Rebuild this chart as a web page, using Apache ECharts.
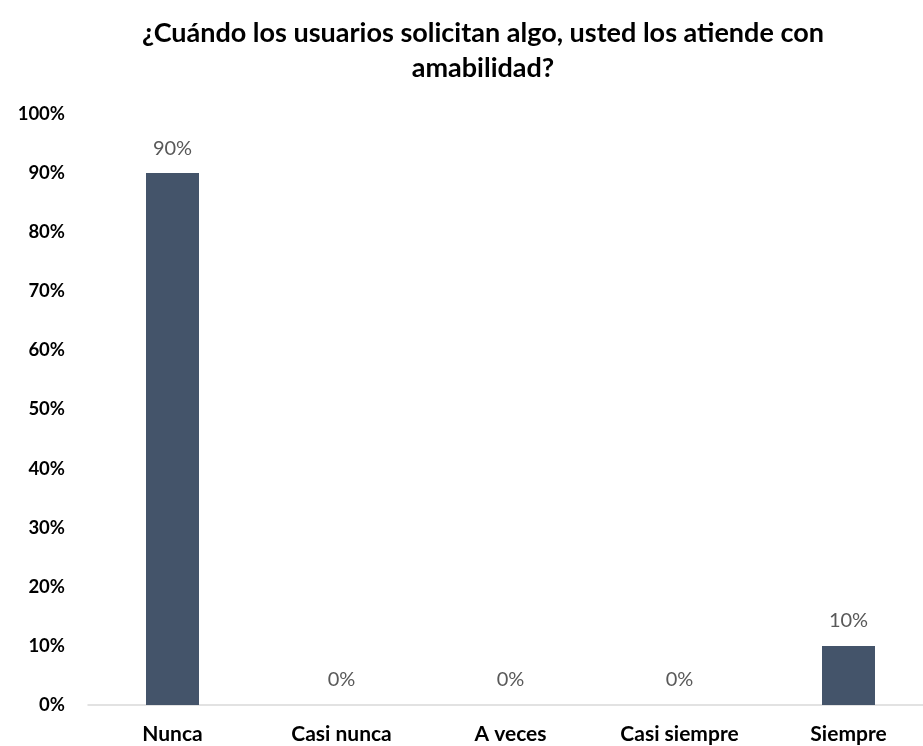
<!DOCTYPE html>
<html>
<head>
<meta charset="utf-8">
<script src="https://cdn.jsdelivr.net/npm/echarts@6/dist/echarts.min.js"></script>
<style>
html,body{margin:0;padding:0;background:#fff;}
#chart{width:923px;height:746px;}
</style>
</head>
<body>
<div id="chart"></div>
<script>
const categories = ['Nunca', 'Casi nunca', 'A veces', 'Casi siempre', 'Siempre'];
const values = [90, 0, 0, 0, 10];
const yTicks = [0, 10, 20, 30, 40, 50, 60, 70, 80, 90, 100];

const font = 'Lato, "Open Sans", sans-serif';
const chart = echarts.init(document.getElementById('chart'));
chart.setOption({
  animation: false,
  title: {
    text: '¿Cuándo los usuarios solicitan algo, usted los atiende con\namabilidad?',
    left: 478,
    textAlign: 'center',
    top: 11,
    textStyle: { fontFamily: font, fontWeight: 'bold', fontSize: 27, color: '#000', lineHeight: 35 }
  },
  grid: { left: 88, top: 114, width: 845, bottom: 41, containLabel: false, outerBoundsMode: 'none' },
  xAxis: {
    type: 'category',
    data: categories,
    axisTick: { show: false },
    axisLine: { lineStyle: { color: '#d9d9d9', width: 1.5 } },
    axisLabel: { fontFamily: font, fontWeight: 'bold', fontSize: 21, color: '#000', margin: 19, interval: 0 }
  },
  yAxis: {
    type: 'value',
    min: 0, max: 100, interval: 10,
    splitLine: { show: false },
    axisLine: { show: false },
    axisTick: { show: false },
    axisLabel: {
      fontFamily: font, fontWeight: 'bold', fontSize: 18.5, color: '#000', margin: 23,
      formatter: v => yTicks.includes(v) ? v + '%' : ''
    }
  },
  series: [{
    type: 'bar',
    data: values,
    barWidth: 53,
    itemStyle: { color: '#44546A' },
    label: {
      show: true, position: 'top', distance: 15,
      fontFamily: font, fontSize: 20, color: '#595959',
      formatter: p => p.value + '%'
    }
  }]
});
</script>
</body>
</html>
